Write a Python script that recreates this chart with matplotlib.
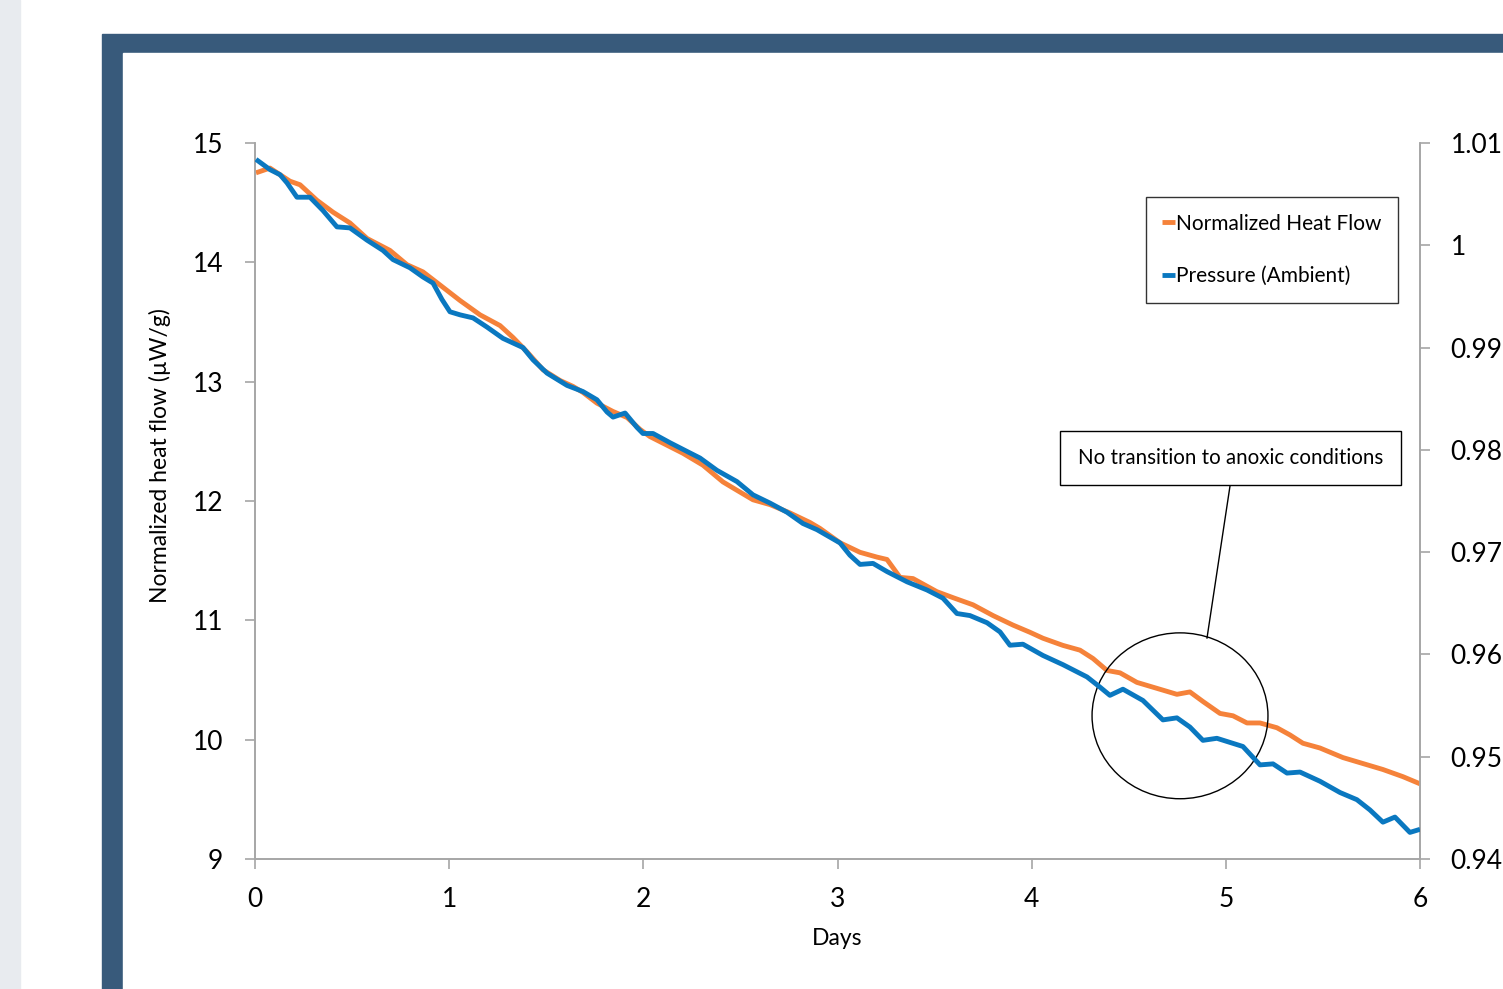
import matplotlib
matplotlib.use("Agg")
import matplotlib.pyplot as plt
from matplotlib.patches import Rectangle, Ellipse
from matplotlib.lines import Line2D
from matplotlib.ticker import FuncFormatter

plt.rcParams['font.family'] = ['Lato', 'DejaVu Sans']

# Normalized heat flow (left axis, µW/g)
heat_days = [0.005, 0.077, 0.180, 0.232, 0.319, 0.402, 0.489, 0.577, 0.695, 0.783,
             0.865, 0.937, 1.056, 1.159, 1.262, 1.329, 1.401, 1.483, 1.571, 1.638,
             1.689, 1.761, 1.844, 1.916, 1.983, 2.034, 2.204, 2.307, 2.410, 2.482,
             2.565, 2.652, 2.755, 2.858, 2.910, 3.013, 3.116, 3.203, 3.255, 3.322,
             3.389, 3.512, 3.595, 3.698, 3.801, 3.904, 3.991, 4.058, 4.161, 4.249,
             4.316, 4.388, 4.455, 4.542, 4.645, 4.748, 4.815, 4.882, 4.970, 5.037,
             5.109, 5.176, 5.263, 5.330, 5.397, 5.485, 5.603, 5.706, 5.809, 5.912, 6.000]
heat_flow = [14.75, 14.79, 14.68, 14.65, 14.52, 14.42, 14.33, 14.20, 14.10, 13.98,
             13.92, 13.83, 13.68, 13.56, 13.47, 13.37, 13.25, 13.10, 13.01, 12.96,
             12.91, 12.82, 12.75, 12.70, 12.60, 12.54, 12.40, 12.30, 12.16, 12.09,
             12.01, 11.97, 11.90, 11.82, 11.77, 11.65, 11.57, 11.53, 11.51, 11.36,
             11.35, 11.24, 11.19, 11.13, 11.04, 10.96, 10.90, 10.85, 10.79, 10.75,
             10.68, 10.58, 10.56, 10.48, 10.43, 10.38, 10.40, 10.32, 10.22, 10.20,
             10.14, 10.14, 10.10, 10.04, 9.97, 9.93, 9.85, 9.80, 9.75, 9.69, 9.63]

# Ambient pressure (right axis)
press_days = [0.005, 0.077, 0.129, 0.165, 0.216, 0.283, 0.350, 0.422, 0.489, 0.577,
              0.659, 0.711, 0.798, 0.865, 0.917, 0.963, 1.004, 1.056, 1.123, 1.195,
              1.277, 1.380, 1.432, 1.504, 1.607, 1.689, 1.761, 1.813, 1.844, 1.906,
              1.967, 1.998, 2.050, 2.137, 2.240, 2.292, 2.379, 2.482, 2.565, 2.652,
              2.740, 2.822, 2.894, 3.013, 3.064, 3.116, 3.183, 3.255, 3.358, 3.461,
              3.543, 3.615, 3.682, 3.770, 3.837, 3.888, 3.955, 4.058, 4.161, 4.285,
              4.352, 4.403, 4.470, 4.573, 4.676, 4.748, 4.815, 4.882, 4.954, 5.088,
              5.176, 5.243, 5.315, 5.382, 5.485, 5.588, 5.675, 5.742, 5.809, 5.871,
              5.948, 6.000]
pressure = [1.0084, 1.0074, 1.0069, 1.0061, 1.0047, 1.0047, 1.0034, 1.0018, 1.0017, 1.0005,
            0.9995, 0.9986, 0.9978, 0.9969, 0.9963, 0.9947, 0.9935, 0.9932, 0.9929, 0.9920,
            0.9909, 0.9900, 0.9888, 0.9875, 0.9863, 0.9857, 0.9849, 0.9837, 0.9832, 0.9836,
            0.9822, 0.9816, 0.9816, 0.9807, 0.9797, 0.9792, 0.9780, 0.9769, 0.9756, 0.9748,
            0.9739, 0.9728, 0.9722, 0.9709, 0.9697, 0.9688, 0.9689, 0.9681, 0.9671, 0.9663,
            0.9655, 0.9640, 0.9638, 0.9631, 0.9622, 0.9609, 0.9610, 0.9599, 0.9590, 0.9578,
            0.9568, 0.9560, 0.9566, 0.9555, 0.9536, 0.9538, 0.9529, 0.9516, 0.9518, 0.9510,
            0.9492, 0.9493, 0.9484, 0.9485, 0.9476, 0.9465, 0.9458, 0.9448, 0.9436, 0.9441,
            0.9426, 0.9429]

left_ticks = [9, 10, 11, 12, 13, 14, 15]
right_ticks = [0.94, 0.95, 0.96, 0.97, 0.98, 0.99, 1.00, 1.01]
day_ticks = [0, 1, 2, 3, 4, 5, 6]

orange = "#f5823a"
blue = "#0a78c0"
grey = "#a6a6a6"

W, H = 1503, 989
fig = plt.figure(figsize=(W / 100, H / 100), dpi=100)


def px(x, y):
    # figure fraction from pixel position (top-left origin)
    return x / W, 1 - y / H


# page background: grey strip, dark blue frame, white panel
fig.patches.append(Rectangle((0, 0), 20 / W, 1, transform=fig.transFigure,
                             color="#e8ebef", zorder=-10))
fig.patches.append(Rectangle(px(102, H), 1, 1 - 34 / H, transform=fig.transFigure,
                             color="#385a7b", zorder=-10))
fig.patches.append(Rectangle(px(123, H), 1, 1 - 53 / H, transform=fig.transFigure,
                             color="white", zorder=-10))

ax = fig.add_axes([255 / W, 1 - 859 / H, (1420 - 255) / W, (859 - 143) / H])
ax.patch.set_alpha(0)
ax2 = ax.twinx()

l1, = ax.plot(heat_days, heat_flow, color=orange, lw=3.5, solid_capstyle="butt",
              solid_joinstyle="round", label="Normalized Heat Flow", zorder=3)
l2, = ax2.plot(press_days, pressure, color=blue, lw=3.5, solid_capstyle="butt",
               solid_joinstyle="round", label="Pressure (Ambient)", zorder=3)

ax.set_xlim(0, 6)
ax.set_ylim(9, 15)
ax2.set_ylim(0.94, 1.01)
ax.set_xticks(day_ticks)
ax.set_yticks(left_ticks)
ax2.set_yticks(right_ticks)
ax2.yaxis.set_major_formatter(FuncFormatter(lambda v, p: f"{v:g}"))

for a in (ax, ax2):
    a.spines["top"].set_visible(False)
    for s in ("left", "right", "bottom"):
        a.spines[s].set_color(grey)
        a.spines[s].set_linewidth(1.2)
    a.tick_params(colors=grey, labelcolor="black", labelsize=19, length=7, width=1.2)
ax.tick_params(axis="y", pad=16)
ax.tick_params(axis="x", pad=13)
ax2.tick_params(axis="y", pad=15)

ax.set_xlabel("Days", fontsize=16.5, labelpad=12)
ax.set_ylabel("Normalized heat flow (µW/g)", fontsize=16.5)
ax.yaxis.set_label_coords(-0.072, 0.564)

leg = ax.legend(handles=[l1, l2], loc="upper right",
                bbox_to_anchor=((1398 - 255) / 1165, (859 - 197) / 716),
                fontsize=15, frameon=True, fancybox=False, handlelength=0.6,
                handletextpad=0.05, labelspacing=1.55, borderpad=0.8, borderaxespad=0)
leg.get_frame().set_edgecolor("black")
leg.get_frame().set_linewidth(1.0)

# callout box, leader line and circle
bx0, by0 = px(1060, 485)
bx1, by1 = px(1401, 431)
fig.patches.append(Rectangle((bx0, by0), bx1 - bx0, by1 - by0, transform=fig.transFigure,
                             fc="white", ec="black", lw=1.0, zorder=5))
fig.text((bx0 + bx1) / 2, (by0 + by1) / 2, "No transition to anoxic conditions",
         fontsize=14.8, ha="center", va="center", zorder=6)
fig.lines.append(Line2D([px(1230, 486)[0], px(1207, 638)[0]], [px(1230, 486)[1], px(1207, 638)[1]],
                        transform=fig.transFigure, color="black", lw=1.0, zorder=5))
ax.add_patch(Ellipse((4.764, 10.20), 0.906, 1.39, fill=False, ec="black", lw=1.0, zorder=5))

fig.savefig("out.png", dpi=100)
